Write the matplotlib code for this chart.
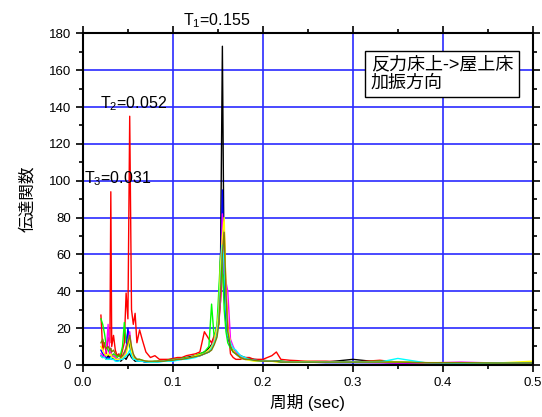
from matplotlib import pyplot

pyplot.rcParams['font.family'] = ['Liberation Sans', 'Noto Sans CJK JP']
pyplot.rcParams['mathtext.fontset'] = 'custom'
pyplot.rcParams['mathtext.rm'] = 'Liberation Sans'
pyplot.rcParams['mathtext.it'] = 'Liberation Sans'

period = [0.020, 0.022, 0.024, 0.026, 0.028, 0.030, 0.031, 0.032, 0.034, 0.036,
          0.038, 0.040, 0.042, 0.044, 0.046, 0.048, 0.050, 0.052, 0.054, 0.056,
          0.058, 0.060, 0.063, 0.066, 0.070, 0.075, 0.080, 0.085, 0.090, 0.095,
          0.100, 0.105, 0.110, 0.115, 0.120, 0.125, 0.130, 0.135, 0.140, 0.143,
          0.146, 0.149, 0.151, 0.153, 0.155, 0.157, 0.159, 0.161, 0.164, 0.167,
          0.170, 0.175, 0.180, 0.185, 0.190, 0.200, 0.210, 0.215, 0.220, 0.230,
          0.250, 0.270, 0.300, 0.330, 0.350, 0.380, 0.420, 0.460, 0.500]

black = [5, 4, 6, 3, 5, 4, 6, 3, 4, 3,
         2, 3, 2, 3, 4, 3, 5, 6, 4, 3,
         2, 2, 2, 2, 1.5, 1.5, 1.5, 2, 2, 2.5,
         3, 3, 3.5, 4, 4.5, 5, 6, 7, 9, 11,
         14, 20, 30, 60, 173, 45, 25, 16, 11, 8,
         7, 5, 4, 3.5, 3, 2.5, 2, 2, 2, 1.5,
         1.5, 1.5, 3, 1.5, 1, 1, 1, 0.8, 0.8]
red = [27, 8, 12, 6, 15, 12, 94, 10, 16, 8,
       5, 6, 4, 8, 12, 39, 25, 135, 30, 22,
       28, 12, 19, 13.6, 7, 4, 5, 3, 3, 3,
       3.5, 4, 4, 5, 5.5, 6, 7, 18, 14, 12,
       16, 20, 22, 35, 50, 75, 40, 22, 6, 4,
       3, 3, 4, 4, 3, 3, 5, 7, 3, 2.5,
       2, 2, 1.5, 2.5, 1.5, 1.2, 1, 1, 1]
green = [25, 22, 17, 10, 8, 6, 7, 5, 6, 5,
         4, 5, 6, 10, 23, 12, 18, 10, 6, 5,
         4, 3, 3, 2.5, 2, 1.5, 2, 2, 2, 2.5,
         3, 3, 3.5, 4, 4, 5, 6, 7, 10, 33,
         14, 22, 40, 60, 55, 30, 18, 12, 9, 7,
         6, 4, 3, 3, 2.5, 2, 2, 2, 2, 1.5,
         1.5, 1.5, 1.5, 2, 1.5, 1.2, 1, 1, 1.2]
blue = [8, 6, 5, 4, 4, 3, 5, 3, 3, 3,
        2, 3, 3, 4, 6, 8, 20, 12, 6, 4,
        3, 2.5, 2, 2, 1.5, 1.5, 1.5, 2, 2, 2,
        2.5, 3, 3, 3.5, 4, 4.5, 5, 6, 7, 9,
        12, 18, 28, 50, 95, 55, 28, 16, 10, 8,
        6, 4, 3, 3, 2.5, 2, 2, 2, 1.5, 1.5,
        1.5, 1.2, 1.2, 1.2, 1, 1, 1, 1, 1]
magenta = [6, 5, 4, 8, 22, 6, 9, 4, 5, 4,
           3, 3, 3, 4, 5, 10, 12, 18, 8, 5,
           4, 3, 2.5, 2, 2, 1.5, 1.5, 2, 2, 2,
           2.5, 3, 3, 3.5, 4, 4.5, 5, 6, 8, 10,
           14, 20, 25, 35, 82, 50, 45, 40, 14, 10,
           7, 5, 3, 3, 2.5, 2, 2, 2, 1.5, 1.5,
           2, 1.5, 1.5, 1.2, 1, 1, 1.5, 1, 1]
yellow = [10, 8, 6, 5, 6, 5, 6, 4, 4, 3,
          3, 3, 3, 4, 5, 6, 10, 14, 7, 4,
          3, 3, 2.5, 2, 2, 1.5, 1.5, 2, 2, 2,
          2.5, 3, 3, 3.5, 4, 5, 5.5, 6, 8, 10,
          13, 20, 30, 55, 70, 80, 40, 20, 12, 8,
          6, 4, 3, 2.5, 2, 2, 2, 1.5, 1.5, 1.5,
          2, 1.5, 1.5, 1.5, 1.5, 1.2, 1.2, 1, 2]
cyan = [5, 4, 4, 3, 3, 3, 4, 3, 3, 2,
        2, 2, 3, 3, 4, 5, 6, 8, 5, 3,
        3, 2, 2, 2, 1.5, 1.5, 1.5, 1.5, 2, 2,
        2, 2.5, 3, 3, 3.5, 4, 5, 6, 7, 9,
        12, 16, 25, 45, 65, 55, 30, 16, 12, 9,
        8, 5, 4, 3, 2.5, 2, 2, 2, 1.5, 1.5,
        1.5, 1.5, 1.5, 1.5, 3.5, 1.2, 1, 1, 1]
olive = [12, 14, 10, 9, 10, 8, 9, 7, 8, 6,
         5, 5, 4, 5, 7, 9, 12, 16, 10, 6,
         4, 3, 3, 2.5, 2, 2, 2, 2, 2, 2.5,
         2.5, 3, 3, 3.5, 4, 4.5, 5, 6, 7, 8,
         11, 15, 22, 40, 60, 72, 38, 18, 10, 7,
         6, 4, 3, 3, 2.5, 2, 2, 2, 1.5, 1.5,
         1.5, 1.5, 1.5, 1.5, 1.5, 1.2, 1.2, 1, 1]

series = [(black, 'black'), (red, 'red'), (green, '#00ff00'), (blue, 'blue'),
          (magenta, '#ff00ff'), (yellow, '#ffff00'), (cyan, '#00ffff'),
          (olive, '#808000')]

fig = pyplot.figure(figsize=(5.42, 4.17), dpi=100)
ax = fig.add_axes([0.153, 0.125, 0.830, 0.795])

for vals, col in series:
    ax.plot(period, vals, color=col, lw=1.0)

ax.set_xlim(0, 0.5)
ax.set_ylim(0, 180)
ax.set_xticks([0.0, 0.1, 0.2, 0.3, 0.4, 0.5])
ax.set_xticklabels(['0.0', '0.1', '0.2', '0.3', '0.4', '0.5'])
ax.set_xticks([0.05, 0.15, 0.25, 0.35, 0.45], minor=True)
ax.set_yticks(range(0, 181, 20))
ax.set_yticks(range(10, 180, 20), minor=True)
ax.grid(True, which='major', color='#2a2aff', linewidth=1.2)
ax.set_axisbelow(True)

ax.tick_params(which='both', direction='out', top=True, right=True,
               labelsize=9.5, width=1.2, colors='black')
ax.tick_params(which='major', length=5)
ax.tick_params(which='minor', length=3)
for sp in ax.spines.values():
    sp.set_linewidth(1.5)

ax.set_xlabel('周期 (sec)', fontsize=12, labelpad=4)
ax.set_ylabel('伝達関数', fontsize=12, labelpad=10)

ax.text(0.149, 182, 'T$_1$=0.155', fontsize=11.5, ha='center', va='bottom',
        clip_on=False)
ax.text(0.019, 137, 'T$_2$=0.052', fontsize=11.5, ha='left', va='bottom')
ax.text(0.001, 96, 'T$_3$=0.031', fontsize=11.5, ha='left', va='bottom')

ax.text(0.320, 158, '反力床上->屋上床\n加振方向', fontsize=13, ha='left',
        va='center', linespacing=1.1,
        bbox=dict(boxstyle='square,pad=0.3', fc='white', ec='black', lw=1.0))

pyplot.savefig('out.png', dpi=100)
